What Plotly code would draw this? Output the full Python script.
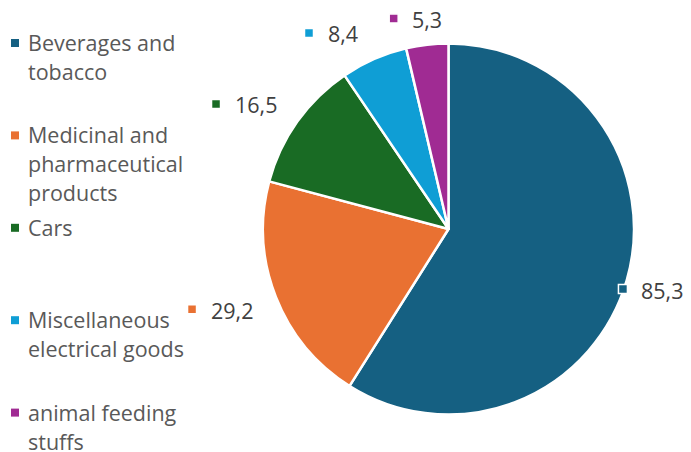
import math
import textwrap
import plotly.graph_objects as go

# ---- data ----
categories = ["Beverages and tobacco", "Medicinal and pharmaceutical products",
              "Cars", "Miscellaneous electrical goods", "animal feeding stuffs"]
values = [85.3, 29.2, 16.5, 8.4, 5.3]
colors = ["#156082", "#E97132", "#196B24", "#0F9ED5", "#A02B93"]

# ---- layout constants (pixels) ----
W, H = 691, 452
CX, CY, R = 448.5, 229.0, 185.5
FONT = "Open Sans"
FS = 21.5
LEGEND_X_MARK, LEGEND_X_TEXT = 15, 26.5
LEGEND_Y0, LEGEND_STEP, LINE_STEP = 43, 92.4, 29
# label marker placement: angle nudge from slice bisector (deg), radius (px)
LABEL_NUDGE = [2.9, 4.1, -7.1, -11.8, -8.0]
LABEL_RADIUS = [184.5, 268.7, 264.0, 240.6, 217.6]
LABEL_TEXT_GAP = 17.5

fig = go.Figure()

fig.add_trace(go.Pie(
    labels=categories, values=values, sort=False, direction="clockwise", rotation=0,
    marker=dict(colors=colors, line=dict(color="white", width=2.5)),
    textinfo="none", hoverinfo="skip", showlegend=False,
    domain=dict(x=[(CX - R) / W, (CX + R) / W], y=[(H - CY - R) / H, (H - CY + R) / H]),
))

# legend markers (scatter in pixel-space axes)
leg_y = [LEGEND_Y0 + i * LEGEND_STEP for i in range(len(categories))]
fig.add_trace(go.Scatter(
    x=[LEGEND_X_MARK] * len(categories), y=leg_y, mode="markers",
    marker=dict(symbol="square", size=8, color=colors), hoverinfo="skip", showlegend=False,
))

annotations = []
shapes = []
for i, cat in enumerate(categories):
    for j, line in enumerate(textwrap.wrap(cat, 16)):
        annotations.append(dict(
            x=LEGEND_X_TEXT, y=leg_y[i] + j * LINE_STEP - 0.5, xref="x", yref="y",
            text=line, showarrow=False, xanchor="left", yanchor="middle", borderpad=0,
            font=dict(family=FONT, size=FS, color="#595959"),
        ))

total = sum(values)
cum = 0.0
for i, v in enumerate(values):
    start = cum / total * 360
    cum += v
    end = cum / total * 360
    ang = math.radians((start + end) / 2 + LABEL_NUDGE[i])
    mx = CX + LABEL_RADIUS[i] * math.sin(ang)
    my = CY - LABEL_RADIUS[i] * math.cos(ang)
    s = 4.5
    shapes.append(dict(type="rect", xref="x", yref="y", x0=mx - s, x1=mx + s, y0=my - s, y1=my + s,
                       fillcolor=colors[i], line=dict(color="white", width=1.5), layer="above"))
    annotations.append(dict(
        x=mx + LABEL_TEXT_GAP, y=my + 1, xref="x", yref="y",
        text=f"{v:.1f}".replace(".", ","), showarrow=False, xanchor="left", yanchor="middle",
        borderpad=0, font=dict(family=FONT, size=FS, color="#404040"),
    ))

fig.update_layout(
    width=W, height=H, margin=dict(l=0, r=0, t=0, b=0),
    paper_bgcolor="white", plot_bgcolor="rgba(0,0,0,0)",
    xaxis=dict(range=[0, W], visible=False, fixedrange=True, domain=[0, 1]),
    yaxis=dict(range=[H, 0], visible=False, fixedrange=True, domain=[0, 1]),
    annotations=annotations, shapes=shapes, showlegend=False,
)

fig.write_html("out.html")
